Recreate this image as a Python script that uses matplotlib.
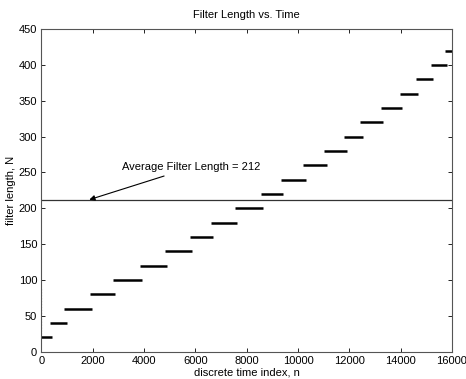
import matplotlib
matplotlib.use('Agg')
import matplotlib.pyplot as plt

# filter length held over each stretch of n
lengths = [20, 40, 60, 80, 100, 120, 140, 160, 180, 200, 220,
           240, 260, 280, 300, 320, 340, 360, 380, 400, 420]
n_start = [0, 340, 900, 1900, 2810, 3830, 4810, 5800, 6600, 7550, 8540,
           9320, 10210, 11030, 11810, 12420, 13240, 13960, 14580, 15180, 15740]
n_end = [420, 1000, 1960, 2870, 3940, 4890, 5860, 6670, 7640, 8620, 9410,
         10310, 11130, 11910, 12520, 13330, 14050, 14660, 15260, 15800, 16000]
avg_len = 212
startup = [20, 90]  # short transient at n = 0

plt.rcParams['font.family'] = ['Liberation Sans', 'DejaVu Sans']
plt.rcParams['font.size'] = 8

fig = plt.figure(figsize=(4.66, 3.79), dpi=100)
ax = fig.add_axes([0.0886, 0.072, 0.8814, 0.8515])

ax.hlines(lengths, n_start, n_end, colors='black', lw=1.8)
ax.vlines(0, startup[0], startup[1], colors='black', lw=0.8, linestyles=':')
ax.axhline(avg_len, color='#333333', lw=0.9)

ax.annotate('Average Filter Length = %d' % avg_len,
            xy=(1870, avg_len), xytext=(3150, 257),
            ha='left', va='center', fontsize=8,
            arrowprops=dict(arrowstyle='-|>', color='black', lw=0.8,
                            mutation_scale=8, shrinkA=2, shrinkB=0))

ax.set_xlim(0, 16000)
ax.set_ylim(0, 450)
ax.set_xticks(range(0, 16001, 2000))
ax.set_yticks(range(0, 451, 50))
ax.tick_params(direction='in', length=3, width=0.6, top=True, right=True,
               labelsize=8, pad=3)
for s in ax.spines.values():
    s.set_linewidth(0.8)
    s.set_color('#555555')

ax.set_title('Filter Length vs. Time', fontsize=8, pad=8)
ax.set_xlabel('discrete time index, n', fontsize=8, labelpad=1)
ax.set_ylabel('filter length, N', fontsize=8, labelpad=2)

fig.savefig('out.png', dpi=100)
